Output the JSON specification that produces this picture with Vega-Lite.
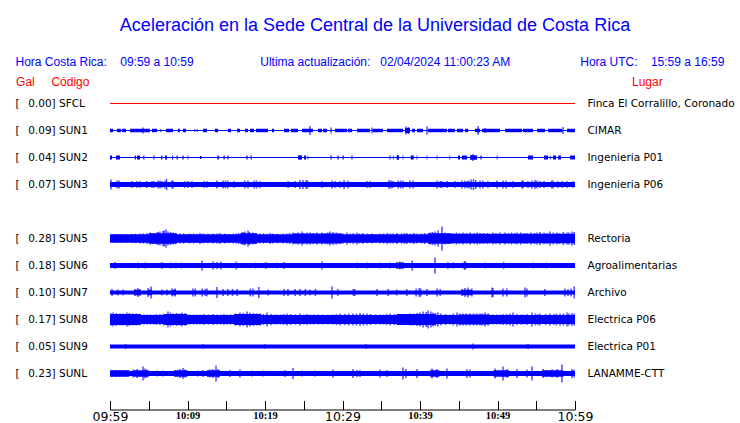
{
  "$schema": "https://vega.github.io/schema/vega-lite/v6.json",
  "autosize": {"type": "none"},
  "width": 465,
  "height": 297,
  "padding": {"left": 110, "top": 90, "right": 165, "bottom": 36},
  "background": "white",
  "config": {"view": {"stroke": null}, "axis": {"grid": false}},
  "title": {
    "text": "Aceleración en la Sede Central de la Universidad de Costa Rica",
    "frame": "group", "anchor": "middle", "dx": 32.5, "dy": -16,
    "font": "Liberation Sans", "fontSize": 18, "fontWeight": "normal", "color": "#0000ff"
  },
  "datasets": {
    "segmentos": [
      {"c":"SFCL","t0":0,"t1":60,"w":1},
      {"c":"SUN1","t0":0,"t1":60,"w":1},
      {"c":"SUN1","t0":0,"t1":0.4,"w":3.5},{"c":"SUN1","t0":0.9,"t1":1.4,"w":3.5},{"c":"SUN1","t0":1.55,"t1":2.06,"w":3.5},{"c":"SUN1","t0":2.58,"t1":5.16,"w":3.5},{"c":"SUN1","t0":5.42,"t1":6.06,"w":3.5},{"c":"SUN1","t0":6.5,"t1":6.6,"w":3},{"c":"SUN1","t0":7.23,"t1":8.13,"w":3.5},{"c":"SUN1","t0":8.77,"t1":9.03,"w":3.5},{"c":"SUN1","t0":9.42,"t1":9.81,"w":3.5},{"c":"SUN1","t0":10.9,"t1":11.0,"w":3},{"c":"SUN1","t0":11.2,"t1":11.3,"w":3},{"c":"SUN1","t0":12.0,"t1":12.52,"w":3.5},{"c":"SUN1","t0":13.55,"t1":13.94,"w":3.5},{"c":"SUN1","t0":15.23,"t1":15.61,"w":3.5},{"c":"SUN1","t0":16.39,"t1":16.77,"w":3.5},{"c":"SUN1","t0":17.42,"t1":17.81,"w":3.5},{"c":"SUN1","t0":18.06,"t1":18.58,"w":3.5},{"c":"SUN1","t0":18.84,"t1":20.39,"w":3.5},{"c":"SUN1","t0":20.9,"t1":21.16,"w":3.5},{"c":"SUN1","t0":22.45,"t1":23.1,"w":3.5},{"c":"SUN1","t0":23.35,"t1":24.26,"w":3.5},{"c":"SUN1","t0":24.77,"t1":26.19,"w":3.5},{"c":"SUN1","t0":26.84,"t1":27.35,"w":3.5},{"c":"SUN1","t0":27.48,"t1":28.0,"w":3.5},{"c":"SUN1","t0":29.03,"t1":30.58,"w":3.5},{"c":"SUN1","t0":30.71,"t1":31.23,"w":3.5},{"c":"SUN1","t0":31.87,"t1":33.55,"w":3.5},{"c":"SUN1","t0":33.94,"t1":35.23,"w":3.5},{"c":"SUN1","t0":35.74,"t1":37.81,"w":3.5},{"c":"SUN1","t0":38.06,"t1":38.71,"w":5},{"c":"SUN1","t0":38.97,"t1":39.35,"w":3.5},{"c":"SUN1","t0":39.61,"t1":40.39,"w":3.5},{"c":"SUN1","t0":41.03,"t1":43.48,"w":3.5},{"c":"SUN1","t0":43.61,"t1":44.52,"w":3.5},{"c":"SUN1","t0":44.77,"t1":45.55,"w":3.5},{"c":"SUN1","t0":45.81,"t1":46.19,"w":3.5},{"c":"SUN1","t0":47.1,"t1":47.74,"w":3.5},{"c":"SUN1","t0":48.0,"t1":50.32,"w":3.5},{"c":"SUN1","t0":50.97,"t1":53.16,"w":3.5},{"c":"SUN1","t0":53.29,"t1":54.58,"w":3.5},{"c":"SUN1","t0":55.1,"t1":56.13,"w":3.5},{"c":"SUN1","t0":56.52,"t1":58.32,"w":3.5},{"c":"SUN1","t0":58.97,"t1":60,"w":3.5},
      {"c":"SUN2","t0":0,"t1":60,"w":1},
      {"c":"SUN2","t0":0,"t1":0.26,"w":4},{"c":"SUN2","t0":0.77,"t1":1.29,"w":4},{"c":"SUN2","t0":3.2,"t1":3.35,"w":4},{"c":"SUN2","t0":3.48,"t1":3.87,"w":4},{"c":"SUN2","t0":4.3,"t1":4.45,"w":4},{"c":"SUN2","t0":5.6,"t1":5.75,"w":4},{"c":"SUN2","t0":6.6,"t1":6.75,"w":4},{"c":"SUN2","t0":7.1,"t1":7.35,"w":4},{"c":"SUN2","t0":8.0,"t1":8.13,"w":4},{"c":"SUN2","t0":8.6,"t1":8.75,"w":4},{"c":"SUN2","t0":9.35,"t1":9.5,"w":4},{"c":"SUN2","t0":10.0,"t1":10.1,"w":4},{"c":"SUN2","t0":11.6,"t1":11.8,"w":3},{"c":"SUN2","t0":13.85,"t1":14.05,"w":4},{"c":"SUN2","t0":14.65,"t1":14.8,"w":4},{"c":"SUN2","t0":15.15,"t1":15.3,"w":4},{"c":"SUN2","t0":17.6,"t1":17.75,"w":4},{"c":"SUN2","t0":18.15,"t1":18.3,"w":4},{"c":"SUN2","t0":24.25,"t1":24.77,"w":4},{"c":"SUN2","t0":25.03,"t1":25.29,"w":4},{"c":"SUN2","t0":25.5,"t1":25.6,"w":4},{"c":"SUN2","t0":28.45,"t1":28.6,"w":4},{"c":"SUN2","t0":29.35,"t1":29.5,"w":4},{"c":"SUN2","t0":30.0,"t1":30.15,"w":4},{"c":"SUN2","t0":31.15,"t1":31.3,"w":4},{"c":"SUN2","t0":36.05,"t1":36.2,"w":4},{"c":"SUN2","t0":36.5,"t1":36.6,"w":4},{"c":"SUN2","t0":37.0,"t1":37.3,"w":4},{"c":"SUN2","t0":37.75,"t1":37.85,"w":4},{"c":"SUN2","t0":38.8,"t1":39.2,"w":4},{"c":"SUN2","t0":39.55,"t1":39.65,"w":4},{"c":"SUN2","t0":40.85,"t1":40.95,"w":4},{"c":"SUN2","t0":42.15,"t1":42.25,"w":4},{"c":"SUN2","t0":43.8,"t1":43.9,"w":4},{"c":"SUN2","t0":44.9,"t1":45.16,"w":4},{"c":"SUN2","t0":45.4,"t1":46.06,"w":4},{"c":"SUN2","t0":46.45,"t1":47.35,"w":4.5},{"c":"SUN2","t0":47.8,"t1":47.95,"w":4},{"c":"SUN2","t0":49.9,"t1":50.0,"w":4},{"c":"SUN2","t0":53.94,"t1":54.58,"w":4},{"c":"SUN2","t0":56.0,"t1":56.52,"w":4},{"c":"SUN2","t0":56.75,"t1":56.85,"w":4},{"c":"SUN2","t0":57.16,"t1":57.55,"w":4},{"c":"SUN2","t0":57.81,"t1":58.19,"w":4},{"c":"SUN2","t0":59.35,"t1":60,"w":4},
      {"c":"SUN3","t0":0,"t1":60,"w":5},
      {"c":"SUN5","t0":0,"t1":60,"w":8.5},{"c":"SUN5","t0":5.0,"t1":8.6,"w":10.5},{"c":"SUN5","t0":16.8,"t1":19.0,"w":10.5},{"c":"SUN5","t0":23.6,"t1":30.0,"w":10},{"c":"SUN5","t0":41.0,"t1":44.0,"w":10.5},{"c":"SUN5","t0":44.0,"t1":60,"w":9.5},
      {"c":"SUN6","t0":0,"t1":60,"w":5},{"c":"SUN6","t0":37.0,"t1":37.9,"w":6},{"c":"SUN6","t0":45.5,"t1":46.0,"w":6},
      {"c":"SUN7","t0":0,"t1":60,"w":4},{"c":"SUN7","t0":3.2,"t1":3.9,"w":5.5},{"c":"SUN7","t0":4.9,"t1":5.4,"w":5.5},{"c":"SUN7","t0":8.0,"t1":8.5,"w":5.5},{"c":"SUN7","t0":45.4,"t1":46.7,"w":5.5},
      {"c":"SUN8","t0":0,"t1":60,"w":9},{"c":"SUN8","t0":0,"t1":4,"w":11},{"c":"SUN8","t0":7,"t1":10,"w":11},{"c":"SUN8","t0":16,"t1":19.5,"w":11},{"c":"SUN8","t0":37,"t1":42,"w":11},{"c":"SUN8","t0":45,"t1":49,"w":10},
      {"c":"SUN9","t0":0,"t1":60,"w":4},
      {"c":"SUNL","t0":0,"t1":60,"w":5},{"c":"SUNL","t0":0,"t1":2.5,"w":6.5},{"c":"SUNL","t0":3,"t1":5,"w":6.5},{"c":"SUNL","t0":8.4,"t1":10,"w":6.5},{"c":"SUNL","t0":12.5,"t1":14.2,"w":6.5},{"c":"SUNL","t0":41.3,"t1":42.5,"w":6.5},{"c":"SUNL","t0":49.5,"t1":51.5,"w":6.5},{"c":"SUNL","t0":55.8,"t1":58.5,"w":6.5}
    ],
    "picos": [
      {"c":"SUN1","t":4.26,"a":6},{"c":"SUN1","t":25.8,"a":9},{"c":"SUN1","t":28.52,"a":6},{"c":"SUN1","t":33.81,"a":6},{"c":"SUN1","t":38.2,"a":8},{"c":"SUN1","t":38.5,"a":7},{"c":"SUN1","t":40.9,"a":8},{"c":"SUN1","t":47.5,"a":9},{"c":"SUN1","t":48.39,"a":5},{"c":"SUN1","t":58.45,"a":7},
      {"c":"SUN2","t":46.84,"a":7},{"c":"SUN2","t":24.5,"a":5},{"c":"SUN2","t":37.1,"a":5},
      {"c":"SUN3","t":0.13,"a":10},{"c":"SUN3","t":0.9,"a":8},{"c":"SUN3","t":1.16,"a":8},{"c":"SUN3","t":2.84,"a":7},{"c":"SUN3","t":3.48,"a":7},{"c":"SUN3","t":3.87,"a":7},{"c":"SUN3","t":4.77,"a":7},{"c":"SUN3","t":5.42,"a":7},{"c":"SUN3","t":5.68,"a":7},{"c":"SUN3","t":6.2,"a":8},{"c":"SUN3","t":6.45,"a":8},{"c":"SUN3","t":6.7,"a":7},{"c":"SUN3","t":7.1,"a":8},{"c":"SUN3","t":7.3,"a":11},{"c":"SUN3","t":8.0,"a":8},{"c":"SUN3","t":8.13,"a":8},{"c":"SUN3","t":9.68,"a":7},{"c":"SUN3","t":10.06,"a":7},{"c":"SUN3","t":10.58,"a":7},{"c":"SUN3","t":12.13,"a":7},{"c":"SUN3","t":12.5,"a":7},{"c":"SUN3","t":13.8,"a":8},{"c":"SUN3","t":14.6,"a":8},{"c":"SUN3","t":14.9,"a":8},{"c":"SUN3","t":15.2,"a":8},{"c":"SUN3","t":16.0,"a":7},{"c":"SUN3","t":17.4,"a":8},{"c":"SUN3","t":17.8,"a":8},{"c":"SUN3","t":18.6,"a":8},{"c":"SUN3","t":18.9,"a":8},{"c":"SUN3","t":19.35,"a":7},{"c":"SUN3","t":22.97,"a":7},{"c":"SUN3","t":23.87,"a":7},{"c":"SUN3","t":24.5,"a":9},{"c":"SUN3","t":24.9,"a":9},{"c":"SUN3","t":25.3,"a":9},{"c":"SUN3","t":25.5,"a":8},{"c":"SUN3","t":27.35,"a":7},{"c":"SUN3","t":28.65,"a":8},{"c":"SUN3","t":29.03,"a":7},{"c":"SUN3","t":29.68,"a":7},{"c":"SUN3","t":30.2,"a":9},{"c":"SUN3","t":30.71,"a":8},{"c":"SUN3","t":33.16,"a":7},{"c":"SUN3","t":33.55,"a":7},{"c":"SUN3","t":36.0,"a":9},{"c":"SUN3","t":36.25,"a":8},{"c":"SUN3","t":36.5,"a":7},{"c":"SUN3","t":37.2,"a":8},{"c":"SUN3","t":37.5,"a":8},{"c":"SUN3","t":37.8,"a":8},{"c":"SUN3","t":38.7,"a":8},{"c":"SUN3","t":39.1,"a":8},{"c":"SUN3","t":42.2,"a":8},{"c":"SUN3","t":42.6,"a":7},{"c":"SUN3","t":42.84,"a":7},{"c":"SUN3","t":43.48,"a":7},{"c":"SUN3","t":44.52,"a":7},{"c":"SUN3","t":45.4,"a":8},{"c":"SUN3","t":45.8,"a":8},{"c":"SUN3","t":46.1,"a":7},{"c":"SUN3","t":46.3,"a":8},{"c":"SUN3","t":46.6,"a":10},{"c":"SUN3","t":46.9,"a":11},{"c":"SUN3","t":47.2,"a":9},{"c":"SUN3","t":47.74,"a":8},{"c":"SUN3","t":48.1,"a":8},{"c":"SUN3","t":48.77,"a":7},{"c":"SUN3","t":49.94,"a":8},{"c":"SUN3","t":50.7,"a":8},{"c":"SUN3","t":51.1,"a":8},{"c":"SUN3","t":52.0,"a":7},{"c":"SUN3","t":53.16,"a":8},{"c":"SUN3","t":53.29,"a":8},{"c":"SUN3","t":53.94,"a":7},{"c":"SUN3","t":54.45,"a":8},{"c":"SUN3","t":54.84,"a":9},{"c":"SUN3","t":55.1,"a":8},{"c":"SUN3","t":55.48,"a":7},{"c":"SUN3","t":56.0,"a":7},{"c":"SUN3","t":57.0,"a":8},{"c":"SUN3","t":57.16,"a":8},{"c":"SUN3","t":57.81,"a":7},{"c":"SUN3","t":58.32,"a":7},{"c":"SUN3","t":58.97,"a":7},{"c":"SUN3","t":59.74,"a":7},
      {"c":"SUN5","t":0.65,"a":9},{"c":"SUN5","t":2.19,"a":9},{"c":"SUN5","t":3.87,"a":10},{"c":"SUN5","t":4.77,"a":11},{"c":"SUN5","t":6.06,"a":12},{"c":"SUN5","t":6.45,"a":14},{"c":"SUN5","t":6.84,"a":15},{"c":"SUN5","t":7.23,"a":18},{"c":"SUN5","t":7.48,"a":14},{"c":"SUN5","t":8.13,"a":12},{"c":"SUN5","t":9.03,"a":10},{"c":"SUN5","t":10.32,"a":10},{"c":"SUN5","t":11.61,"a":11},{"c":"SUN5","t":13.29,"a":10},{"c":"SUN5","t":14.19,"a":11},{"c":"SUN5","t":15.87,"a":10},{"c":"SUN5","t":17.03,"a":12},{"c":"SUN5","t":17.42,"a":14},{"c":"SUN5","t":17.81,"a":16},{"c":"SUN5","t":18.45,"a":12},{"c":"SUN5","t":19.35,"a":10},{"c":"SUN5","t":20.65,"a":11},{"c":"SUN5","t":22.32,"a":10},{"c":"SUN5","t":23.61,"a":12},{"c":"SUN5","t":24.77,"a":14},{"c":"SUN5","t":25.42,"a":12},{"c":"SUN5","t":27.35,"a":12},{"c":"SUN5","t":28.39,"a":14},{"c":"SUN5","t":28.77,"a":13},{"c":"SUN5","t":30.58,"a":12},{"c":"SUN5","t":31.87,"a":12},{"c":"SUN5","t":32.65,"a":11},{"c":"SUN5","t":34.84,"a":10},{"c":"SUN5","t":36.52,"a":10},{"c":"SUN5","t":38.32,"a":11},{"c":"SUN5","t":39.61,"a":10},{"c":"SUN5","t":41.29,"a":12},{"c":"SUN5","t":41.94,"a":14},{"c":"SUN5","t":42.32,"a":16},{"c":"SUN5","t":42.84,"a":24},{"c":"SUN5","t":43.23,"a":12},{"c":"SUN5","t":45.55,"a":12},{"c":"SUN5","t":47.74,"a":11},{"c":"SUN5","t":49.42,"a":12},{"c":"SUN5","t":50.97,"a":12},{"c":"SUN5","t":52.52,"a":12},{"c":"SUN5","t":53.81,"a":11},{"c":"SUN5","t":55.48,"a":13},{"c":"SUN5","t":56.77,"a":14},{"c":"SUN5","t":57.68,"a":12},{"c":"SUN5","t":58.97,"a":12},{"c":"SUN5","t":59.61,"a":14},
      {"c":"SUN5","t":1.0,"a":9},{"c":"SUN5","t":1.5,"a":8.5},{"c":"SUN5","t":2.8,"a":9},{"c":"SUN5","t":3.3,"a":9.5},{"c":"SUN5","t":4.3,"a":10},{"c":"SUN5","t":5.2,"a":12},{"c":"SUN5","t":5.6,"a":11},{"c":"SUN5","t":6.2,"a":13},{"c":"SUN5","t":7.0,"a":16},{"c":"SUN5","t":7.8,"a":13},{"c":"SUN5","t":8.5,"a":11},{"c":"SUN5","t":9.5,"a":10},{"c":"SUN5","t":10.0,"a":9},{"c":"SUN5","t":10.8,"a":10},{"c":"SUN5","t":11.2,"a":9},{"c":"SUN5","t":12.0,"a":10},{"c":"SUN5","t":12.6,"a":9.5},{"c":"SUN5","t":13.8,"a":10},{"c":"SUN5","t":14.8,"a":10},{"c":"SUN5","t":15.3,"a":9},{"c":"SUN5","t":16.3,"a":10},{"c":"SUN5","t":16.6,"a":11},{"c":"SUN5","t":17.2,"a":13},{"c":"SUN5","t":18.0,"a":13},{"c":"SUN5","t":18.8,"a":11},{"c":"SUN5","t":19.8,"a":10},{"c":"SUN5","t":20.2,"a":9},{"c":"SUN5","t":21.0,"a":10},{"c":"SUN5","t":21.6,"a":9.5},{"c":"SUN5","t":22.8,"a":10},{"c":"SUN5","t":23.2,"a":11},{"c":"SUN5","t":24.0,"a":11},{"c":"SUN5","t":24.3,"a":12},{"c":"SUN5","t":25.0,"a":11},{"c":"SUN5","t":25.8,"a":12},{"c":"SUN5","t":26.2,"a":11},{"c":"SUN5","t":26.7,"a":12},{"c":"SUN5","t":27.8,"a":11},{"c":"SUN5","t":28.1,"a":12},{"c":"SUN5","t":29.2,"a":12},{"c":"SUN5","t":29.6,"a":11},{"c":"SUN5","t":30.1,"a":10},{"c":"SUN5","t":31.0,"a":10},{"c":"SUN5","t":31.4,"a":11},{"c":"SUN5","t":32.2,"a":10},{"c":"SUN5","t":33.2,"a":9.5},{"c":"SUN5","t":33.8,"a":10},{"c":"SUN5","t":34.3,"a":9},{"c":"SUN5","t":35.3,"a":10},{"c":"SUN5","t":35.8,"a":11},{"c":"SUN5","t":36.2,"a":10},{"c":"SUN5","t":37.0,"a":11},{"c":"SUN5","t":37.6,"a":10},{"c":"SUN5","t":38.0,"a":11},{"c":"SUN5","t":38.8,"a":10},{"c":"SUN5","t":39.2,"a":11},{"c":"SUN5","t":40.2,"a":10},{"c":"SUN5","t":40.6,"a":11},{"c":"SUN5","t":41.6,"a":13},{"c":"SUN5","t":43.6,"a":11},{"c":"SUN5","t":44.2,"a":11},{"c":"SUN5","t":44.7,"a":12},{"c":"SUN5","t":45.1,"a":11},{"c":"SUN5","t":46.0,"a":11},{"c":"SUN5","t":46.5,"a":12},{"c":"SUN5","t":47.0,"a":11},{"c":"SUN5","t":47.4,"a":12},{"c":"SUN5","t":48.2,"a":11},{"c":"SUN5","t":48.7,"a":11},{"c":"SUN5","t":49.8,"a":11},{"c":"SUN5","t":50.3,"a":12},{"c":"SUN5","t":51.4,"a":11},{"c":"SUN5","t":51.8,"a":12},{"c":"SUN5","t":52.2,"a":11},{"c":"SUN5","t":53.0,"a":12},{"c":"SUN5","t":53.4,"a":11},{"c":"SUN5","t":54.3,"a":12},{"c":"SUN5","t":54.8,"a":11},{"c":"SUN5","t":55.1,"a":12},{"c":"SUN5","t":56.0,"a":12},{"c":"SUN5","t":56.4,"a":11},{"c":"SUN5","t":57.2,"a":12},{"c":"SUN5","t":58.0,"a":11},{"c":"SUN5","t":58.5,"a":13},{"c":"SUN5","t":59.2,"a":12},{"c":"SUN5","t":59.9,"a":13},
      {"c":"SUN6","t":0.65,"a":7},{"c":"SUN6","t":3.6,"a":6},{"c":"SUN6","t":4.5,"a":6},{"c":"SUN6","t":6.7,"a":7},{"c":"SUN6","t":7.9,"a":6},{"c":"SUN6","t":8.5,"a":6},{"c":"SUN6","t":9.2,"a":6},{"c":"SUN6","t":11.87,"a":10},{"c":"SUN6","t":13.3,"a":8},{"c":"SUN6","t":13.8,"a":7},{"c":"SUN6","t":14.3,"a":8},{"c":"SUN6","t":16.3,"a":8},{"c":"SUN6","t":18.8,"a":6},{"c":"SUN6","t":20.1,"a":7},{"c":"SUN6","t":21.5,"a":6},{"c":"SUN6","t":22.45,"a":7},{"c":"SUN6","t":27.35,"a":8},{"c":"SUN6","t":31.9,"a":6},{"c":"SUN6","t":33.2,"a":6},{"c":"SUN6","t":34.8,"a":6},{"c":"SUN6","t":36.1,"a":6},{"c":"SUN6","t":37.0,"a":7},{"c":"SUN6","t":37.4,"a":8},{"c":"SUN6","t":37.8,"a":7},{"c":"SUN6","t":39.0,"a":10},{"c":"SUN6","t":41.94,"a":16},{"c":"SUN6","t":43.6,"a":7},{"c":"SUN6","t":44.3,"a":6},{"c":"SUN6","t":45.8,"a":9},{"c":"SUN6","t":48.4,"a":6},{"c":"SUN6","t":50.8,"a":7},{"c":"SUN6","t":54.6,"a":6},{"c":"SUN6","t":56.3,"a":6},
      {"c":"SUN7","t":0.26,"a":7},{"c":"SUN7","t":1.03,"a":6},{"c":"SUN7","t":1.68,"a":6},{"c":"SUN7","t":3.2,"a":7},{"c":"SUN7","t":3.6,"a":9},{"c":"SUN7","t":3.87,"a":7},{"c":"SUN7","t":4.9,"a":9},{"c":"SUN7","t":5.3,"a":12},{"c":"SUN7","t":6.7,"a":6},{"c":"SUN7","t":7.35,"a":6},{"c":"SUN7","t":8.0,"a":8},{"c":"SUN7","t":8.4,"a":8},{"c":"SUN7","t":10.7,"a":8},{"c":"SUN7","t":11.0,"a":8},{"c":"SUN7","t":11.9,"a":8},{"c":"SUN7","t":12.3,"a":7},{"c":"SUN7","t":12.5,"a":8},{"c":"SUN7","t":13.8,"a":11},{"c":"SUN7","t":14.6,"a":7},{"c":"SUN7","t":15.2,"a":7},{"c":"SUN7","t":15.8,"a":7},{"c":"SUN7","t":16.4,"a":7},{"c":"SUN7","t":18.1,"a":8},{"c":"SUN7","t":18.45,"a":8},{"c":"SUN7","t":19.2,"a":11},{"c":"SUN7","t":20.4,"a":6},{"c":"SUN7","t":22.45,"a":7},{"c":"SUN7","t":22.97,"a":7},{"c":"SUN7","t":23.9,"a":7},{"c":"SUN7","t":24.5,"a":7},{"c":"SUN7","t":25.2,"a":7},{"c":"SUN7","t":25.8,"a":6},{"c":"SUN7","t":26.5,"a":7},{"c":"SUN7","t":28.65,"a":12},{"c":"SUN7","t":29.4,"a":7},{"c":"SUN7","t":31.4,"a":7},{"c":"SUN7","t":31.6,"a":7},{"c":"SUN7","t":34.45,"a":7},{"c":"SUN7","t":35.9,"a":7},{"c":"SUN7","t":37.0,"a":6},{"c":"SUN7","t":38.3,"a":7},{"c":"SUN7","t":39.5,"a":8},{"c":"SUN7","t":39.9,"a":9},{"c":"SUN7","t":40.1,"a":8},{"c":"SUN7","t":40.9,"a":7},{"c":"SUN7","t":42.2,"a":8},{"c":"SUN7","t":42.6,"a":7},{"c":"SUN7","t":45.4,"a":7},{"c":"SUN7","t":45.8,"a":9},{"c":"SUN7","t":46.2,"a":10},{"c":"SUN7","t":46.7,"a":8},{"c":"SUN7","t":49.3,"a":10},{"c":"SUN7","t":49.4,"a":9},{"c":"SUN7","t":50.7,"a":8},{"c":"SUN7","t":51.2,"a":8},{"c":"SUN7","t":53.55,"a":10},{"c":"SUN7","t":53.8,"a":8},{"c":"SUN7","t":56.1,"a":7},{"c":"SUN7","t":58.7,"a":8},{"c":"SUN7","t":59.1,"a":7},{"c":"SUN7","t":59.5,"a":8},{"c":"SUN7","t":59.9,"a":12},
      {"c":"SUN8","t":0.39,"a":14},{"c":"SUN8","t":1.29,"a":12},{"c":"SUN8","t":2.19,"a":14},{"c":"SUN8","t":2.97,"a":12},{"c":"SUN8","t":3.87,"a":11},{"c":"SUN8","t":5.16,"a":10},{"c":"SUN8","t":6.45,"a":11},{"c":"SUN8","t":7.48,"a":16},{"c":"SUN8","t":8.13,"a":12},{"c":"SUN8","t":9.29,"a":14},{"c":"SUN8","t":10.32,"a":10},{"c":"SUN8","t":11.61,"a":10},{"c":"SUN8","t":13.29,"a":11},{"c":"SUN8","t":15.1,"a":10},{"c":"SUN8","t":16.77,"a":14},{"c":"SUN8","t":17.68,"a":16},{"c":"SUN8","t":18.06,"a":14},{"c":"SUN8","t":18.97,"a":12},{"c":"SUN8","t":20.26,"a":14},{"c":"SUN8","t":21.55,"a":10},{"c":"SUN8","t":22.84,"a":12},{"c":"SUN8","t":24.52,"a":12},{"c":"SUN8","t":25.81,"a":10},{"c":"SUN8","t":27.48,"a":10},{"c":"SUN8","t":28.77,"a":10},{"c":"SUN8","t":29.68,"a":12},{"c":"SUN8","t":31.35,"a":12},{"c":"SUN8","t":32.26,"a":13},{"c":"SUN8","t":33.16,"a":12},{"c":"SUN8","t":34.84,"a":10},{"c":"SUN8","t":36.13,"a":12},{"c":"SUN8","t":37.81,"a":10},{"c":"SUN8","t":39.1,"a":12},{"c":"SUN8","t":40.39,"a":16},{"c":"SUN8","t":41.03,"a":18},{"c":"SUN8","t":41.68,"a":14},{"c":"SUN8","t":42.32,"a":14},{"c":"SUN8","t":43.87,"a":10},{"c":"SUN8","t":44.77,"a":14},{"c":"SUN8","t":45.55,"a":12},{"c":"SUN8","t":46.45,"a":12},{"c":"SUN8","t":47.74,"a":12},{"c":"SUN8","t":48.39,"a":14},{"c":"SUN8","t":49.42,"a":10},{"c":"SUN8","t":50.71,"a":11},{"c":"SUN8","t":52.0,"a":14},{"c":"SUN8","t":53.29,"a":10},{"c":"SUN8","t":54.45,"a":14},{"c":"SUN8","t":55.48,"a":12},{"c":"SUN8","t":56.77,"a":12},{"c":"SUN8","t":58.06,"a":12},{"c":"SUN8","t":58.97,"a":14},{"c":"SUN8","t":59.61,"a":13},
      {"c":"SUN8","t":0.1,"a":12},{"c":"SUN8","t":0.8,"a":13},{"c":"SUN8","t":1.7,"a":12},{"c":"SUN8","t":2.5,"a":13},{"c":"SUN8","t":3.4,"a":12},{"c":"SUN8","t":4.4,"a":10},{"c":"SUN8","t":4.8,"a":10},{"c":"SUN8","t":5.7,"a":10},{"c":"SUN8","t":6.0,"a":11},{"c":"SUN8","t":6.9,"a":12},{"c":"SUN8","t":7.8,"a":14},{"c":"SUN8","t":8.6,"a":13},{"c":"SUN8","t":9.0,"a":12},{"c":"SUN8","t":9.7,"a":13},{"c":"SUN8","t":10.8,"a":10},{"c":"SUN8","t":11.2,"a":10},{"c":"SUN8","t":12.1,"a":11},{"c":"SUN8","t":12.7,"a":10},{"c":"SUN8","t":13.8,"a":10},{"c":"SUN8","t":14.3,"a":10},{"c":"SUN8","t":14.7,"a":11},{"c":"SUN8","t":15.6,"a":10},{"c":"SUN8","t":16.2,"a":12},{"c":"SUN8","t":17.2,"a":13},{"c":"SUN8","t":18.5,"a":13},{"c":"SUN8","t":19.4,"a":12},{"c":"SUN8","t":19.8,"a":11},{"c":"SUN8","t":20.8,"a":11},{"c":"SUN8","t":21.2,"a":10},{"c":"SUN8","t":22.0,"a":10},{"c":"SUN8","t":22.4,"a":11},{"c":"SUN8","t":23.3,"a":11},{"c":"SUN8","t":23.9,"a":10},{"c":"SUN8","t":25.0,"a":10},{"c":"SUN8","t":25.4,"a":11},{"c":"SUN8","t":26.3,"a":10},{"c":"SUN8","t":26.9,"a":10},{"c":"SUN8","t":28.1,"a":10},{"c":"SUN8","t":29.2,"a":11},{"c":"SUN8","t":30.3,"a":11},{"c":"SUN8","t":30.8,"a":12},{"c":"SUN8","t":31.8,"a":12},{"c":"SUN8","t":32.7,"a":12},{"c":"SUN8","t":33.6,"a":11},{"c":"SUN8","t":34.3,"a":10},{"c":"SUN8","t":35.3,"a":10},{"c":"SUN8","t":35.7,"a":11},{"c":"SUN8","t":36.7,"a":11},{"c":"SUN8","t":37.3,"a":10},{"c":"SUN8","t":38.3,"a":11},{"c":"SUN8","t":38.7,"a":12},{"c":"SUN8","t":39.6,"a":13},{"c":"SUN8","t":40.0,"a":14},{"c":"SUN8","t":40.8,"a":15},{"c":"SUN8","t":41.4,"a":16},{"c":"SUN8","t":42.0,"a":13},{"c":"SUN8","t":42.7,"a":12},{"c":"SUN8","t":43.3,"a":11},{"c":"SUN8","t":44.3,"a":12},{"c":"SUN8","t":45.1,"a":12},{"c":"SUN8","t":46.0,"a":12},{"c":"SUN8","t":46.9,"a":12},{"c":"SUN8","t":47.3,"a":12},{"c":"SUN8","t":48.0,"a":12},{"c":"SUN8","t":48.8,"a":12},{"c":"SUN8","t":49.9,"a":10},{"c":"SUN8","t":50.3,"a":10},{"c":"SUN8","t":51.2,"a":11},{"c":"SUN8","t":51.6,"a":12},{"c":"SUN8","t":52.5,"a":11},{"c":"SUN8","t":53.0,"a":10},{"c":"SUN8","t":53.8,"a":11},{"c":"SUN8","t":54.9,"a":12},{"c":"SUN8","t":55.2,"a":11},{"c":"SUN8","t":56.2,"a":11},{"c":"SUN8","t":57.3,"a":11},{"c":"SUN8","t":57.6,"a":12},{"c":"SUN8","t":58.5,"a":12},{"c":"SUN8","t":59.2,"a":12},{"c":"SUN8","t":59.9,"a":12},
      {"c":"SUN9","t":2.0,"a":5},{"c":"SUN9","t":12.0,"a":4.5},{"c":"SUN9","t":20.0,"a":4.5},{"c":"SUN9","t":33.0,"a":4.5},{"c":"SUN9","t":46.84,"a":6},{"c":"SUN9","t":53.94,"a":5},
      {"c":"SUNL","t":0.26,"a":7},{"c":"SUNL","t":0.77,"a":7},{"c":"SUNL","t":1.29,"a":7},{"c":"SUNL","t":2.97,"a":8},{"c":"SUNL","t":3.48,"a":9},{"c":"SUNL","t":4.26,"a":14},{"c":"SUNL","t":4.52,"a":10},{"c":"SUNL","t":4.77,"a":8},{"c":"SUNL","t":6.06,"a":6},{"c":"SUNL","t":6.84,"a":6},{"c":"SUNL","t":8.39,"a":7},{"c":"SUNL","t":9.03,"a":9},{"c":"SUNL","t":9.42,"a":11},{"c":"SUNL","t":9.68,"a":8},{"c":"SUNL","t":11.35,"a":6},{"c":"SUNL","t":12.0,"a":7},{"c":"SUNL","t":12.9,"a":8},{"c":"SUNL","t":13.29,"a":9},{"c":"SUNL","t":13.68,"a":16},{"c":"SUNL","t":13.94,"a":9},{"c":"SUNL","t":15.48,"a":7},{"c":"SUNL","t":16.77,"a":8},{"c":"SUNL","t":18.32,"a":6},{"c":"SUNL","t":19.74,"a":6},{"c":"SUNL","t":22.58,"a":7},{"c":"SUNL","t":23.61,"a":11},{"c":"SUNL","t":24.77,"a":6},{"c":"SUNL","t":26.45,"a":6},{"c":"SUNL","t":28.77,"a":8},{"c":"SUNL","t":31.35,"a":9},{"c":"SUNL","t":31.87,"a":7},{"c":"SUNL","t":32.26,"a":7},{"c":"SUNL","t":34.84,"a":8},{"c":"SUNL","t":35.74,"a":7},{"c":"SUNL","t":37.81,"a":12},{"c":"SUNL","t":38.19,"a":9},{"c":"SUNL","t":39.61,"a":9},{"c":"SUNL","t":41.55,"a":10},{"c":"SUNL","t":42.19,"a":9},{"c":"SUNL","t":43.48,"a":10},{"c":"SUNL","t":46.06,"a":9},{"c":"SUNL","t":46.45,"a":8},{"c":"SUNL","t":49.68,"a":10},{"c":"SUNL","t":50.71,"a":14},{"c":"SUNL","t":51.23,"a":9},{"c":"SUNL","t":52.52,"a":9},{"c":"SUNL","t":53.81,"a":8},{"c":"SUNL","t":54.45,"a":14},{"c":"SUNL","t":55.87,"a":9},{"c":"SUNL","t":57.03,"a":8},{"c":"SUNL","t":57.68,"a":9},{"c":"SUNL","t":58.32,"a":18},{"c":"SUNL","t":59.61,"a":9},{"c":"SUNL","t":59.87,"a":8}
    ]
  },
  "layer": [
    {
      "data": {"name": "segmentos"},
      "mark": {"type": "rule"},
      "encoding": {
        "x": {
          "field": "t0", "type": "quantitative",
          "scale": {"domain": [0, 60], "nice": false, "zero": false},
          "axis": {
            "orient": "bottom", "title": null, "offset": 22.5,
            "values": [0, 5, 10, 15, 20, 25, 30, 35, 40, 45, 50, 55, 60],
            "tickSize": -9, "tickColor": "black", "domainColor": "black",
            "labelFlush": false, "labelOverlap": false, "labelColor": "black",
            "labelPadding": 10, "labelBaseline": "top",
            "labelExpr": "({'0':'09:59','10':'10:09','20':'10:19','30':'10:29','40':'10:39','50':'10:49','60':'10:59'})[datum.value] || ''",
            "labelFont": {"condition": {"test": "datum.value % 30 === 0", "value": "DejaVu Sans"}, "value": "Liberation Serif"},
            "labelFontSize": {"condition": {"test": "datum.value % 30 === 0", "value": 12.5}, "value": 10.5},
            "labelFontWeight": {"condition": {"test": "datum.value % 30 === 0", "value": "normal"}, "value": "bold"}
          }
        },
        "x2": {"field": "t1"},
        "y": {
          "field": "c", "type": "nominal",
          "scale": {"type": "point", "padding": 0.5, "domain": ["SFCL","SUN1","SUN2","SUN3","SUN4","SUN5","SUN6","SUN7","SUN8","SUN9","SUNL"]},
          "axis": {
            "orient": "left", "ticks": false, "tickSize": 0, "domain": false,
            "labelAlign": "left", "labelPadding": 95, "labelBaseline": "middle",
            "labelFont": "DejaVu Sans", "labelFontSize": 10.5, "labelColor": "black",
            "labelExpr": "({'SFCL':'[\u2002\u00a00.00] SFCL','SUN1':'[\u2002\u00a00.09] SUN1','SUN2':'[\u2002\u00a00.04] SUN2','SUN3':'[\u2002\u00a00.07] SUN3','SUN5':'[\u2002\u00a00.28] SUN5','SUN6':'[\u2002\u00a00.18] SUN6','SUN7':'[\u2002\u00a00.10] SUN7','SUN8':'[\u2002\u00a00.17] SUN8','SUN9':'[\u2002\u00a00.05] SUN9','SUNL':'[\u2002\u00a00.23] SUNL'})[datum.value] || ''",
            "title": "Gal\u00a0\u00a0\u00a0\u00a0\u00a0Código", "titleAngle": 0, "titleAlign": "left", "titleBaseline": "middle",
            "titleX": -94.4, "titleY": -9, "titleColor": "#ff0000", "titleFont": "Liberation Sans", "titleFontSize": 12, "titleFontWeight": "normal"
          }
        },
        "strokeWidth": {"field": "w", "type": "quantitative", "scale": {"domain": [0, 20], "range": [0, 20], "zero": true}, "legend": null},
        "color": {"condition": {"test": "datum.c === 'SFCL'", "value": "#ff0000"}, "value": "#0000ff"}
      }
    },
    {
      "data": {"name": "picos"},
      "mark": {"type": "tick", "orient": "vertical", "thickness": 1.5},
      "encoding": {
        "x": {
          "field": "t", "type": "quantitative",
          "axis": {
            "orient": "top", "labels": false, "ticks": false, "domain": false,
            "title": "Hora Costa Rica:\u00a0\u00a0\u00a0\u00a009:59 a 10:59\u00a0\u00a0\u00a0\u00a0\u00a0\u00a0\u00a0\u00a0\u00a0\u00a0\u00a0\u00a0\u00a0\u00a0\u00a0\u00a0\u00a0\u00a0\u00a0\u00a0Ultima actualización:\u00a0\u00a0\u00a002/04/2024 11:00:23 AM\u00a0\u00a0\u00a0\u00a0\u00a0\u00a0\u00a0\u00a0\u00a0\u00a0\u00a0\u00a0\u00a0\u00a0\u00a0\u00a0\u00a0\u00a0\u00a0\u00a0\u00a0Hora UTC:\u00a0\u00a0\u00a0\u00a015:59 a 16:59",
            "titleAlign": "left", "titleAnchor": null, "titleBaseline": "middle", "titleX": -95, "titleY": -29,
            "titleColor": "#0000ff", "titleFont": "Liberation Sans", "titleFontSize": 12, "titleFontWeight": "normal"
          }
        },
        "y": {
          "field": "c", "type": "nominal",
          "axis": {
            "orient": "right", "ticks": false, "tickSize": 0, "domain": false,
            "labelAlign": "left", "labelPadding": 12, "labelBaseline": "middle",
            "labelFont": "DejaVu Sans", "labelFontSize": 10.5, "labelColor": "black",
            "labelExpr": "({'SFCL':'Finca El Corralillo, Coronado','SUN1':'CIMAR','SUN2':'Ingenieria P01','SUN3':'Ingenieria P06','SUN5':'Rectoria','SUN6':'Agroalimentarias','SUN7':'Archivo','SUN8':'Electrica P06','SUN9':'Electrica P01','SUNL':'LANAMME-CTT'})[datum.value] || ''",
            "title": "Lugar", "titleAngle": 0, "titleAlign": "left", "titleBaseline": "middle",
            "titleX": 56.5, "titleY": -9, "titleColor": "#ff0000", "titleFont": "Liberation Sans", "titleFontSize": 12, "titleFontWeight": "normal"
          }
        },
        "size": {"field": "a", "type": "quantitative", "scale": {"domain": [0, 30], "range": [0, 30], "zero": true}, "legend": null},
        "color": {"value": "#0000ff"}
      }
    }
  ],
  "resolve": {"axis": {"x": "independent", "y": "independent"}}
}
